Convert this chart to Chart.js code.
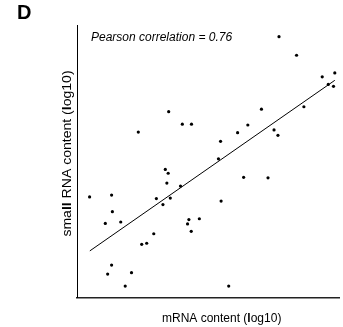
<!DOCTYPE html>
<html>
<head>
<meta charset="utf-8">
<script src="https://cdn.jsdelivr.net/npm/chart.js@4"></script>
<style>
  html, body { margin: 0; padding: 0; background: #ffffff; }
  #wrap { width: 343px; height: 327px; position: relative; }
</style>
</head>
<body>
<div id="wrap"><canvas id="scatterChart"></canvas></div>
<script>
// mRNA content (log10), arbitrary 0-10 scale
const mrnaValues = [
  7.71, 8.38, 9.36, 9.84, 9.59, 9.79, 8.66, 7.04, 3.50, 4.02,
  4.37, 6.52, 6.13, 2.34, 7.52, 7.67, 5.48, 5.40, 3.37, 3.48,
  6.36, 7.29, 3.43, 3.95, 0.48, 1.32, 3.03, 3.56, 5.50, 3.28,
  1.35, 4.67, 4.27, 1.67, 1.08, 4.22, 4.36, 2.93, 2.66, 2.47,
  1.32, 2.08, 1.17, 1.84, 5.79
];
// small RNA content (log10), same order
const smallRnaValues = [
  9.57, 8.89, 8.10, 8.24, 7.82, 7.75, 7.00, 6.91, 6.82, 6.36,
  6.36, 6.33, 6.05, 6.07, 6.15, 5.95, 5.73, 5.09, 4.70, 4.56,
  4.41, 4.39, 4.20, 4.09, 3.69, 3.76, 3.63, 3.65, 3.54, 3.41,
  3.15, 2.89, 2.86, 2.77, 2.72, 2.70, 2.43, 2.34, 1.99, 1.95,
  1.19, 0.91, 0.86, 0.42, 0.42
];
// regression line end points
const fitX = [0.49, 9.84];
const fitY = [1.71, 7.97];

const FONT = "'Liberation Sans', Arial, sans-serif";

function drawSegments(ctx, parts, size) {
  // parts: [[text, bold], ...] centred on 0
  let total = 0;
  parts.forEach(p => {
    ctx.font = (p[1] ? "bold " : "") + size + "px " + FONT;
    total += ctx.measureText(p[0]).width;
  });
  let x = -total / 2;
  parts.forEach(p => {
    ctx.font = (p[1] ? "bold " : "") + size + "px " + FONT;
    ctx.fillText(p[0], x, 0);
    x += ctx.measureText(p[0]).width;
  });
}

const textPlugin = {
  id: "figureText",
  afterDraw(chart) {
    const ctx = chart.ctx;
    ctx.save();
    ctx.fillStyle = "#000000";
    ctx.textBaseline = "alphabetic";

    ctx.font = "bold 20px " + FONT;
    ctx.fillText("D", 17, 19);

    ctx.font = "italic 12px " + FONT;
    ctx.fillText("Pearson correlation = 0.76", 91, 40.5);

    ctx.textBaseline = "middle";
    ctx.save();
    ctx.translate(221.7, 318.5);
    drawSegments(ctx, [["mRNA content (", false], ["l", true], ["og10)", false]], 12);
    ctx.restore();

    ctx.save();
    ctx.translate(68, 153.5);
    ctx.rotate(-Math.PI / 2);
    ctx.scale(1.17, 1);
    drawSegments(ctx, [["sma", false], ["ll", true], [" RNA content (", false], ["l", true], ["og10)", false]], 12);
    ctx.restore();

    ctx.restore();
  }
};

const points = mrnaValues.map((v, i) => ({ x: v, y: smallRnaValues[i] }));
const fitLine = fitX.map((v, i) => ({ x: v, y: fitY[i] }));

new Chart(document.getElementById("scatterChart"), {
  type: "scatter",
  data: {
    datasets: [
      {
        label: "genes",
        data: points,
        pointRadius: 1.6,
        pointBackgroundColor: "#000000",
        pointBorderWidth: 0,
        clip: false
      },
      {
        label: "fit",
        data: fitLine,
        showLine: true,
        borderColor: "#000000",
        borderWidth: 1,
        pointRadius: 0
      }
    ]
  },
  options: {
    responsive: true,
    maintainAspectRatio: false,
    animation: false,
    layout: { padding: { top: 25, right: 0, left: 0, bottom: 0 } },
    plugins: { legend: { display: false }, tooltip: { enabled: false } },
    scales: {
      x: {
        min: 0, max: 10,
        ticks: { display: false },
        grid: { display: false },
        border: { display: true, color: "#222222", width: 1.5 },
        afterFit(scale) { scale.height = 29.5; }
      },
      y: {
        min: 0, max: 10,
        ticks: { display: false },
        grid: { display: false },
        border: { display: true, color: "#000000", width: 1 },
        afterFit(scale) { scale.width = 77; }
      }
    }
  },
  plugins: [textPlugin]
});
</script>
</body>
</html>
